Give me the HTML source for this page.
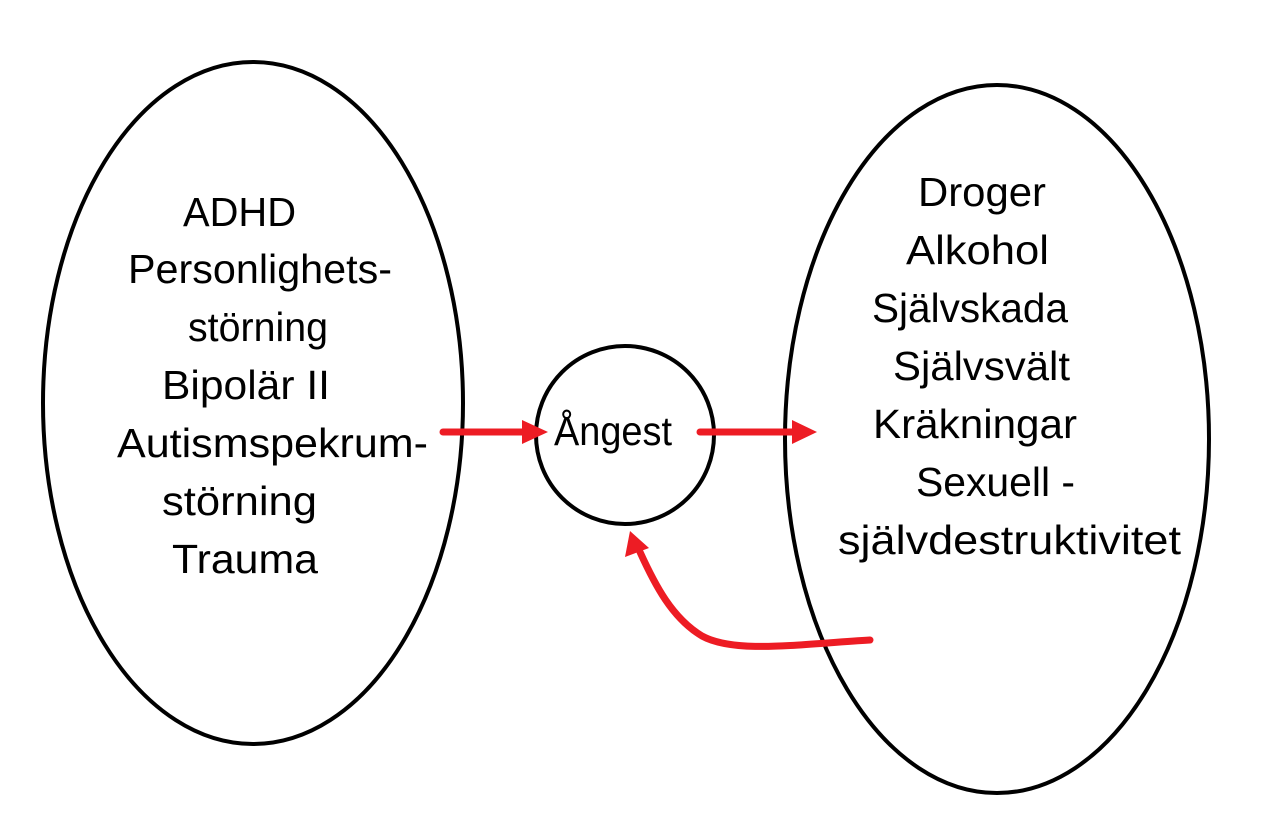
<!DOCTYPE html>
<html><head><meta charset="utf-8"><style>html,body{margin:0;padding:0;background:#fff}svg{display:block}</style></head>
<body>
<svg width="1273" height="817" viewBox="0 0 1273 817" xmlns="http://www.w3.org/2000/svg">
<rect width="1273" height="817" fill="#fff"/>
<g fill="none" stroke="#000" stroke-width="4">
<ellipse cx="253" cy="403" rx="210" ry="341"/>
<ellipse cx="997" cy="439" rx="212" ry="354"/>
<circle cx="625" cy="435" r="89"/>
</g>
<g stroke="#ed1c24" stroke-width="7" fill="none" stroke-linecap="round">
<line x1="443" y1="432" x2="526" y2="432"/>
<line x1="700" y1="432" x2="795" y2="432"/>
<path d="M870 640 C 800 644, 735 654, 702 636 C 672 618, 655 585, 640 552"/>
</g>
<g fill="#ed1c24">
<polygon points="548,432 522,420 522,444"/>
<polygon points="817,432 792,420 792,444"/>
<polygon points="630,531 625,557 649,548"/>
</g>
<g font-family="Liberation Sans, sans-serif" font-size="41" fill="#000">
<text x="183" y="226" textLength="113" lengthAdjust="spacingAndGlyphs">ADHD</text>
<text x="128" y="283" textLength="264" lengthAdjust="spacingAndGlyphs">Personlighets-</text>
<text x="188" y="341" textLength="140" lengthAdjust="spacingAndGlyphs">störning</text>
<text x="162" y="399" textLength="168" lengthAdjust="spacingAndGlyphs">Bipolär II</text>
<text x="117" y="457" textLength="311" lengthAdjust="spacingAndGlyphs">Autismspekrum-</text>
<text x="162" y="515" textLength="155" lengthAdjust="spacingAndGlyphs">störning</text>
<text x="172" y="573" textLength="146" lengthAdjust="spacingAndGlyphs">Trauma</text>
<text x="554" y="445" textLength="118" lengthAdjust="spacingAndGlyphs">Ångest</text>
<text x="918" y="206" textLength="128" lengthAdjust="spacingAndGlyphs">Droger</text>
<text x="906" y="264" textLength="143" lengthAdjust="spacingAndGlyphs">Alkohol</text>
<text x="872" y="322" textLength="196" lengthAdjust="spacingAndGlyphs">Självskada</text>
<text x="893" y="380" textLength="177" lengthAdjust="spacingAndGlyphs">Självsvält</text>
<text x="873" y="438" textLength="204" lengthAdjust="spacingAndGlyphs">Kräkningar</text>
<text x="916" y="496" textLength="159" lengthAdjust="spacingAndGlyphs">Sexuell -</text>
<text x="838" y="554" textLength="343" lengthAdjust="spacingAndGlyphs">självdestruktivitet</text>
</g>
</svg>
</body></html>
